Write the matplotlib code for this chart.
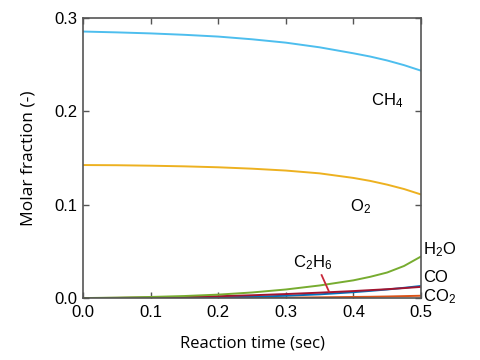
import matplotlib
matplotlib.use("Agg")
import matplotlib.pyplot as plt

# reaction time (sec)
time = [0.0, 0.05, 0.1, 0.15, 0.2, 0.25, 0.3, 0.35, 0.4, 0.425, 0.45, 0.475, 0.5]

# molar fractions
ch4 = [0.2855, 0.2846, 0.2835, 0.2820, 0.2801, 0.2772, 0.2736, 0.2686, 0.2622, 0.2587, 0.2545, 0.2495, 0.2436]
o2 = [0.1425, 0.1423, 0.1418, 0.1411, 0.1401, 0.1386, 0.1366, 0.1336, 0.1287, 0.1255, 0.1215, 0.1168, 0.1110]
h2o = [0.0, 0.0005, 0.0012, 0.0022, 0.0037, 0.0060, 0.0092, 0.0135, 0.0190, 0.0228, 0.0274, 0.0344, 0.0445]
c2h6 = [0.0, 0.0002, 0.0006, 0.0012, 0.0020, 0.0030, 0.0043, 0.0058, 0.0075, 0.0085, 0.0095, 0.0107, 0.0120]
co = [0.0, 0.0, 0.0001, 0.0003, 0.0007, 0.0014, 0.0025, 0.0040, 0.0063, 0.0077, 0.0092, 0.0110, 0.0130]
co2 = [0.0, 0.0, 0.0, 0.0001, 0.0002, 0.0003, 0.0005, 0.0008, 0.0012, 0.0014, 0.0017, 0.0021, 0.0025]

x_ticks = [0.0, 0.1, 0.2, 0.3, 0.4, 0.5]
y_ticks = [0.0, 0.1, 0.2, 0.3]

plt.rcParams["font.family"] = ["Liberation Sans", "DejaVu Sans"]
plt.rcParams["mathtext.default"] = "regular"

fig = plt.figure(figsize=(4.8, 3.6), dpi=100)
ax = fig.add_axes([0.173, 0.172, 0.704, 0.778])

ax.plot(time, co2, color="#D95319", lw=1.4)
ax.plot(time, co, color="#0072BD", lw=1.4)
ax.plot(time, c2h6, color="#A2142F", lw=1.4)
ax.plot(time, h2o, color="#77AC30", lw=1.4)
ax.plot(time, o2, color="#EDB120", lw=1.4)
ax.plot(time, ch4, color="#4DBEEE", lw=1.4)

ax.set_xlim(0, 0.5)
ax.set_ylim(0, 0.3)
ax.set_xticks(x_ticks)
ax.set_yticks(y_ticks)
ax.set_xticklabels([f"{v:.1f}" for v in x_ticks])
ax.set_yticklabels([f"{v:.1f}" for v in y_ticks])
ax.tick_params(direction="in", top=True, right=True, length=4, width=1,
               labelsize=12, color="#555555")
ax.tick_params(axis="x", pad=5)
ax.tick_params(axis="y", pad=4)
for s in ax.spines.values():
    s.set_color("#555555")
    s.set_linewidth(1.2)

ax.set_xlabel("Reaction time (sec)", fontsize=12, family=["Open Sans", "DejaVu Sans"], labelpad=11)
ax.set_ylabel("Molar fraction (-)", fontsize=12.5, family=["Open Sans", "DejaVu Sans"], labelpad=13)

# species labels
ax.text(0.45, 0.211, "CH$_4$", fontsize=12, ha="center", va="center")
ax.text(0.411, 0.0975, "O$_2$", fontsize=12, ha="center", va="center")
ax.text(0.503, 0.0514, "H$_2$O", fontsize=12, ha="left", va="center", clip_on=False)
ax.text(0.503, 0.0225, "CO", fontsize=12, ha="left", va="center", clip_on=False)
ax.text(0.503, 0.002, "CO$_2$", fontsize=12, ha="left", va="center", clip_on=False)
ax.text(0.34, 0.0375, "C$_2$H$_6$", fontsize=12, ha="center", va="center")
ax.plot([0.353, 0.364], [0.0246, 0.0068], color="#C8283A", lw=1.3)

fig.savefig("out.png", dpi=100)
